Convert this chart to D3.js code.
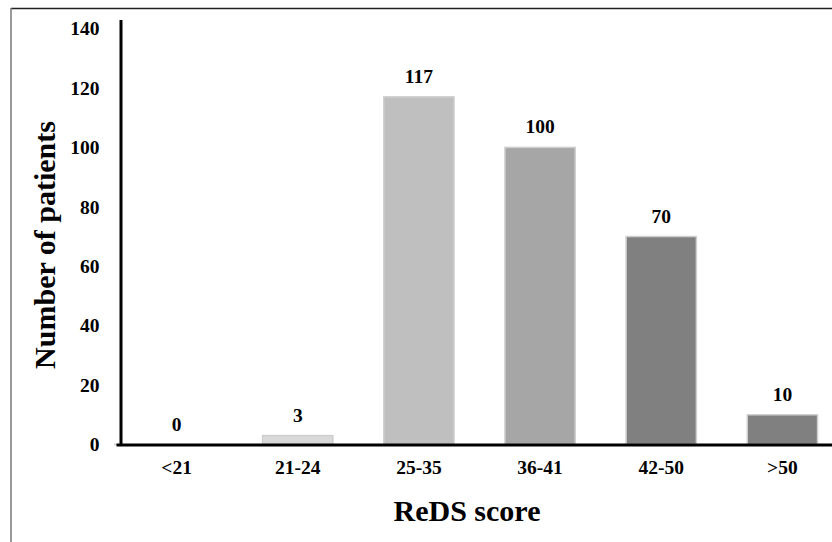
<!DOCTYPE html>
<html>
<head>
<meta charset="utf-8">
<script src="https://cdn.jsdelivr.net/npm/d3@7"></script>
<style>
  html, body { margin: 0; padding: 0; background: #fff; }
  svg { display: block; }
  text { font-family: "Liberation Serif", "Times New Roman", serif; font-weight: bold; fill: #000; }
</style>
</head>
<body>
<svg id="chart" width="832" height="542"></svg>
<script>
const categories = ["<21", "21-24", "25-35", "36-41", "42-50", ">50"];
const patients = [0, 3, 117, 100, 70, 10];
const yTicks = [0, 20, 40, 60, 80, 100, 120, 140];
const barColors = ["#d9d9d9", "#d9d9d9", "#bfbfbf", "#a6a6a6", "#808080", "#808080"];
const xTitle = "ReDS score";
const yTitle = "Number of patients";

const svg = d3.select("#chart");

// frame
svg.append("line").attr("x1", 11).attr("x2", 832).attr("y1", 8.5).attr("y2", 8.5)
  .attr("stroke", "#222").attr("stroke-width", 1.5);
svg.append("line").attr("x1", 11).attr("x2", 11).attr("y1", 8).attr("y2", 542)
  .attr("stroke", "#777").attr("stroke-width", 1.5);

const x = d3.scaleBand().domain(categories).range([116, 843]).paddingInner(0.42).paddingOuter(0.21);
const y = d3.scaleLinear().domain([0, 143]).range([444.5, 19.6]);

// bars
svg.append("g").selectAll("rect").data(categories).join("rect")
  .attr("x", d => x(d))
  .attr("width", x.bandwidth())
  .attr("y", (d, i) => y(patients[i]))
  .attr("height", (d, i) => y(0) - y(patients[i]))
  .attr("fill", (d, i) => barColors[i])
  .attr("stroke", (d, i) => patients[i] > 0 ? "#cfcfcf" : "none")
  .attr("stroke-width", 1.5);

// value labels
svg.append("g").selectAll("text").data(categories).join("text")
  .attr("x", d => x(d) + x.bandwidth() / 2)
  .attr("y", (d, i) => y(patients[i]) - 14)
  .attr("text-anchor", "middle")
  .style("font-size", "19.5px")
  .text((d, i) => patients[i]);

// y axis
const yAxis = d3.axisLeft(y).tickValues(yTicks).tickSize(0).tickPadding(21);
const gy = svg.append("g").attr("transform", "translate(120.5,0)").call(yAxis);
gy.select(".domain").attr("stroke", "#000").attr("stroke-width", 3);
gy.selectAll(".tick text").style("font-size", "19.5px").attr("font-family", null).attr("fill", "#000");

// small gray tick at zero
svg.append("line").attr("x1", 114).attr("x2", 120).attr("y1", y(0)).attr("y2", y(0))
  .attr("stroke", "#ccc").attr("stroke-width", 1.5);

// x axis
const xAxis = d3.axisBottom(x).tickSize(0).tickPadding(16);
const gx = svg.append("g").attr("transform", `translate(0,${y(0)})`).call(xAxis);
gx.select(".domain").attr("stroke", "#000").attr("stroke-width", 3);
gx.selectAll(".tick text").style("font-size", "19.5px").attr("font-family", null).attr("fill", "#000");

// titles
svg.append("text").attr("x", 467).attr("y", 521).attr("text-anchor", "middle")
  .style("font-size", "30px").text(xTitle);
svg.append("text").attr("transform", "translate(55,245) rotate(-90)").attr("text-anchor", "middle")
  .style("font-size", "30px").text(yTitle);
</script>
</body>
</html>
